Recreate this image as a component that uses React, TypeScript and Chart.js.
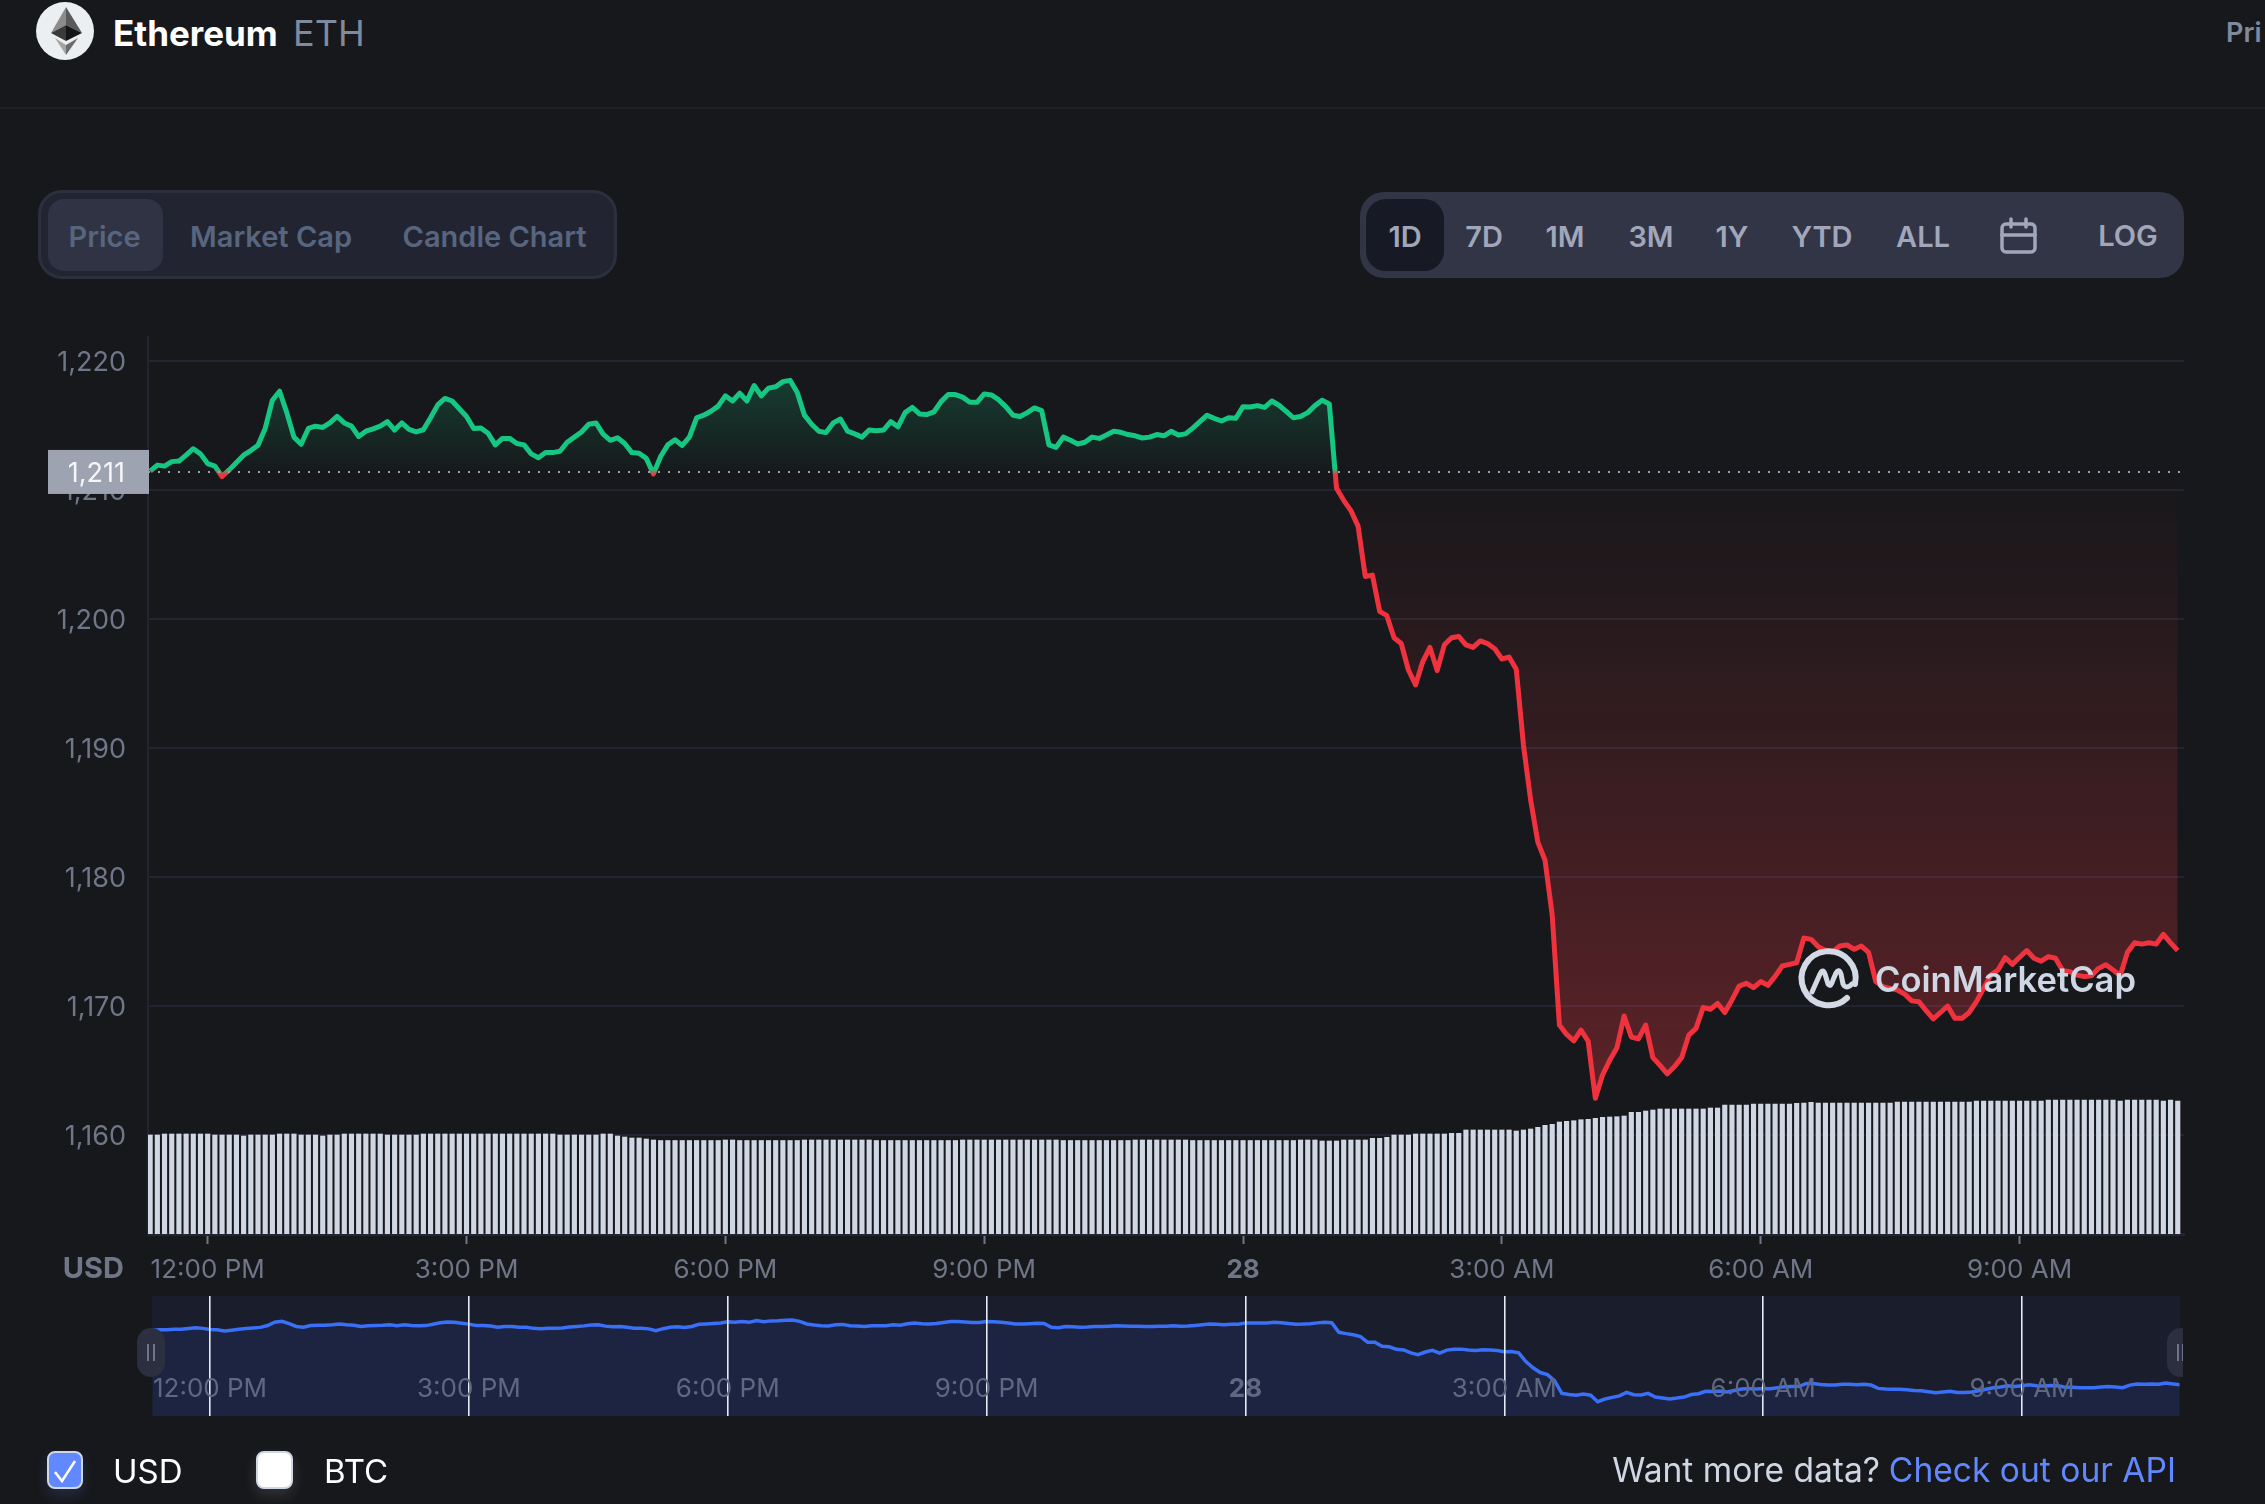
import React, { useEffect, useRef } from 'react'
import { Chart, registerables } from 'chart.js'

Chart.register(...registerables)

// 5 minute samples, ETH / USD
const priceValues = [
  1211.46, 1211.93, 1211.85, 1212.2, 1212.24, 1212.7, 1213.2, 1212.8, 1212.05, 1211.85,
  1211.05, 1211.56, 1212.13, 1212.7, 1213.06, 1213.47, 1214.77, 1216.96, 1217.66, 1216.0,
  1214.1, 1213.55, 1214.77, 1214.95, 1214.85, 1215.2, 1215.7, 1215.2, 1214.95, 1214.15,
  1214.56, 1214.74, 1214.95, 1215.3, 1214.65, 1215.2, 1214.7, 1214.5, 1214.67, 1215.6,
  1216.6, 1217.1, 1216.9, 1216.3, 1215.7, 1214.77, 1214.8, 1214.4, 1213.5, 1214.0,
  1214.0, 1213.6, 1213.5, 1212.8, 1212.5, 1212.9, 1212.9, 1213.0, 1213.7, 1214.1,
  1214.5, 1215.1, 1215.2, 1214.33, 1213.85, 1214.05, 1213.6, 1212.9, 1212.85, 1212.45,
  1211.25, 1212.6, 1213.5, 1213.9, 1213.45, 1214.1, 1215.6, 1215.8, 1216.1, 1216.5,
  1217.3, 1216.9, 1217.5, 1216.9, 1218.1, 1217.3, 1217.9, 1218.0, 1218.4, 1218.5,
  1217.55, 1215.8, 1215.1, 1214.55, 1214.45, 1215.2, 1215.5, 1214.56, 1214.35, 1214.1,
  1214.65, 1214.6, 1214.65, 1215.3, 1214.9, 1216.0, 1216.4, 1215.9, 1215.85, 1216.05,
  1216.85, 1217.4, 1217.4, 1217.2, 1216.8, 1216.8, 1217.45, 1217.37, 1217.0, 1216.46,
  1215.8, 1215.7, 1216.0, 1216.36, 1216.15, 1213.5, 1213.3, 1214.1, 1213.85, 1213.57,
  1213.7, 1214.1, 1214.0, 1214.27, 1214.55, 1214.47, 1214.3, 1214.2, 1214.03, 1214.1,
  1214.3, 1214.2, 1214.55, 1214.27, 1214.35, 1214.8, 1215.3, 1215.8, 1215.55, 1215.35,
  1215.6, 1215.56, 1216.46, 1216.44, 1216.54, 1216.4, 1216.9, 1216.57, 1216.1, 1215.6,
  1215.7, 1216.0, 1216.54, 1216.95, 1216.67, 1210.13, 1209.2, 1208.4, 1207.2, 1203.3,
  1203.4, 1200.6, 1200.26, 1198.55, 1198.1, 1196.05, 1194.9, 1196.7, 1197.8, 1196.0,
  1198.0, 1198.55, 1198.65, 1198.0, 1197.8, 1198.3, 1198.1, 1197.7, 1196.9, 1197.05,
  1196.1, 1190.23, 1185.97, 1182.7, 1181.3, 1177.05, 1168.53, 1167.8, 1167.3, 1168.14,
  1167.27, 1162.85, 1164.65, 1165.8, 1166.77, 1169.23, 1167.6, 1167.45, 1168.53, 1166.0,
  1165.4, 1164.75, 1165.3, 1166.0, 1167.75, 1168.27, 1169.9, 1169.75, 1170.2, 1169.5,
  1170.47, 1171.55, 1171.76, 1171.42, 1171.9, 1171.6, 1172.3, 1173.1, 1173.23, 1173.36,
  1175.27, 1175.17, 1174.6, 1174.3, 1174.2, 1174.65, 1174.73, 1174.4, 1174.65, 1174.16,
  1171.9, 1171.5, 1171.37, 1171.24, 1170.93, 1170.4, 1170.34, 1169.64, 1169.0, 1169.5,
  1170.0, 1169.05, 1169.05, 1169.5, 1170.34, 1171.37, 1172.4, 1172.8, 1173.75, 1173.23,
  1173.78, 1174.3, 1173.7, 1173.47, 1173.83, 1173.7, 1172.74, 1172.66, 1172.4, 1172.28,
  1172.35, 1172.92, 1173.2, 1172.8, 1172.35, 1174.16, 1174.9, 1174.8, 1174.9, 1174.8,
  1175.56, 1174.9, 1174.3,
]

// 24h volume, billions
const volumeValues = [
  9.9, 9.9, 10, 10, 10, 10, 10, 10, 10, 9.9,
  9.9, 9.9, 9.9, 9.8, 9.9, 9.9, 9.9, 9.9, 10, 10,
  10, 9.9, 9.9, 9.9, 9.8, 9.9, 9.9, 10, 10, 10,
  10, 10, 10, 9.9, 9.9, 9.9, 9.9, 9.9, 10, 10,
  10, 10, 10, 10, 10, 10, 10, 10, 10, 10,
  10, 10, 10, 10, 10, 10, 10, 9.9, 9.9, 9.9,
  9.9, 9.9, 9.9, 10, 10, 9.8, 9.7, 9.6, 9.6, 9.5,
  9.4, 9.35, 9.35, 9.35, 9.35, 9.35, 9.35, 9.35, 9.35, 9.35,
  9.4, 9.4, 9.35, 9.35, 9.35, 9.35, 9.35, 9.35, 9.35, 9.35,
  9.35, 9.4, 9.4, 9.4, 9.4, 9.4, 9.4, 9.4, 9.4, 9.4,
  9.4, 9.35, 9.35, 9.35, 9.35, 9.35, 9.35, 9.35, 9.35, 9.35,
  9.35, 9.35, 9.35, 9.4, 9.4, 9.4, 9.4, 9.4, 9.4, 9.4,
  9.4, 9.4, 9.4, 9.4, 9.4, 9.4, 9.4, 9.35, 9.35, 9.35,
  9.35, 9.35, 9.35, 9.35, 9.35, 9.35, 9.35, 9.4, 9.4, 9.4,
  9.4, 9.4, 9.4, 9.4, 9.4, 9.35, 9.35, 9.35, 9.35, 9.35,
  9.35, 9.35, 9.35, 9.35, 9.35, 9.35, 9.35, 9.35, 9.35, 9.35,
  9.4, 9.4, 9.4, 9.3, 9.3, 9.3, 9.4, 9.4, 9.4, 9.4,
  9.57, 9.57, 9.67, 9.9, 9.9, 9.9, 10, 10, 10, 10,
  10, 10.07, 10.07, 10.4, 10.4, 10.4, 10.4, 10.4, 10.4, 10.4,
  10.3, 10.4, 10.5, 10.67, 10.87, 10.97, 11.2, 11.27, 11.33, 11.43,
  11.47, 11.57, 11.67, 11.7, 11.73, 11.8, 12.17, 12.17, 12.3, 12.4,
  12.5, 12.5, 12.5, 12.5, 12.5, 12.5, 12.5, 12.6, 12.6, 12.9,
  12.9, 12.9, 12.9, 13, 13, 13, 13, 13, 13, 13.07,
  13.1, 13.17, 13.1, 13.1, 13.1, 13.1, 13.1, 13.1, 13.1, 13.1,
  13.1, 13.1, 13.1, 13.2, 13.2, 13.2, 13.2, 13.2, 13.2, 13.2,
  13.2, 13.2, 13.2, 13.2, 13.3, 13.3, 13.3, 13.3, 13.3, 13.3,
  13.3, 13.3, 13.3, 13.3, 13.4, 13.4, 13.4, 13.4, 13.4, 13.4,
  13.4, 13.4, 13.4, 13.4, 13.3, 13.4, 13.4, 13.4, 13.4, 13.4,
  13.3, 13.4, 13.3,
]

const baselinePrice = 1211.4
const baselineLabel = '1,211'
const tickIndexes = [8, 44, 80, 116, 152, 188, 224, 260]
const tickLabels = ['12:00 PM', '3:00 PM', '6:00 PM', '9:00 PM', '28', '3:00 AM', '6:00 AM', '9:00 AM']
const tabLabels = ['Price', 'Market Cap', 'Candle Chart']
const rangeLabels = ['1D', '7D', '1M', '3M', '1Y', 'YTD', 'ALL']

const FONT = 'Inter, "Noto Sans", sans-serif'
const BG = '#17181b'
const GRID = '#222531'
const GREEN = '#16c784'
const RED = '#f0323f'
const LABEL = '#6f7688'

const toPoints = (values: number[]) => values.map((y, x) => ({ x, y }))

const fixTicks = (scale: any) => {
  scale.ticks = tickIndexes.map((value) => ({ value }))
}
const tickText = (value: any) => tickLabels[tickIndexes.indexOf(Number(value))]
const tickFont = (size: number) => (ctx: any) => ({
  family: FONT,
  size,
  weight: ctx.tick && ctx.tick.value === 152 ? 'bold' : 'normal',
})

const baselineBox = {
  id: 'baselineBox',
  afterDraw(chart: any) {
    const { ctx, scales, chartArea } = chart
    const y = scales.y.getPixelForValue(baselinePrice)
    ctx.save()
    ctx.fillStyle = '#9ea3b1'
    ctx.fillRect(chartArea.left - 100, y - 22, 101, 44)
    ctx.fillStyle = '#f5f6f8'
    ctx.font = `27px ${FONT}`
    ctx.textAlign = 'right'
    ctx.textBaseline = 'middle'
    ctx.fillText(baselineLabel, chartArea.left - 23, y + 2)
    ctx.restore()
  },
}

const PriceChart: React.FC = () => {
  const canvasRef = useRef<HTMLCanvasElement | null>(null)

  useEffect(() => {
    if (!canvasRef.current) return
    const chart = new Chart(canvasRef.current, {
      type: 'bar',
      data: {
        datasets: [
          {
            type: 'line',
            data: [
              { x: -0.3, y: baselinePrice },
              { x: 282.87, y: baselinePrice },
            ],
            yAxisID: 'y',
            borderColor: '#9ea3b1',
            borderWidth: 2,
            borderDash: [2, 8],
            pointRadius: 0,
            order: 0,
          },
          {
            type: 'line',
            data: toPoints(priceValues),
            yAxisID: 'y',
            borderColor: GREEN,
            borderWidth: 5,
            borderJoinStyle: 'round',
            pointRadius: 0,
            tension: 0,
            fill: { target: { value: baselinePrice } },
            order: 1,
          },
          {
            type: 'bar',
            data: toPoints(volumeValues),
            yAxisID: 'vol',
            backgroundColor: '#cfd6e4',
            barThickness: 4.5,
            order: 2,
          },
        ] as any,
      },
      options: {
        animation: false,
        responsive: false,
        layout: { padding: { top: 337, right: 81, left: 0, bottom: 0 } },
        plugins: { legend: { display: false }, tooltip: { enabled: false } },
        scales: {
          x: {
            type: 'linear',
            offset: false,
            min: -0.3,
            max: 282.87,
            afterBuildTicks: fixTicks,
            afterFit: (scale: any) => {
              scale.height = 56
            },
            grid: { offset: false, drawOnChartArea: false, tickLength: 10, tickColor: '#6f7688', tickWidth: 2 },
            border: { color: GRID, width: 3 },
            ticks: {
              callback: tickText,
              autoSkip: false,
              maxRotation: 0,
              color: LABEL,
              padding: 11,
              font: tickFont(26),
            },
          },
          y: {
            min: 1152.33,
            max: 1221.86,
            afterFit: (scale: any) => {
              scale.width = 148
            },
            grid: { color: GRID, lineWidth: 2, drawTicks: false },
            border: { color: GRID, width: 2 },
            ticks: {
              stepSize: 10,
              includeBounds: false,
              color: LABEL,
              padding: 22,
              labelOffset: 2,
              font: { family: FONT, size: 27 },
              callback: (v: any) => Number(v).toLocaleString('en-US'),
            },
          },
          vol: { display: false, min: 0, max: 89.7 },
        },
      } as any,
      plugins: [baselineBox],
    })

    // gradients need the laid out scale
    const ctx = chart.ctx
    const y = chart.scales.y
    const base = y.getPixelForValue(baselinePrice)
    const high = y.getPixelForValue(1218.5)
    const low = y.getPixelForValue(1162.85)
    const split = (base - high) / (low - high)

    const stroke = ctx.createLinearGradient(0, high, 0, low)
    stroke.addColorStop(0, GREEN)
    stroke.addColorStop(split - 0.004, GREEN)
    stroke.addColorStop(split + 0.004, RED)
    stroke.addColorStop(1, RED)

    const above = ctx.createLinearGradient(0, high, 0, base)
    above.addColorStop(0, 'rgba(22,199,132,0.21)')
    above.addColorStop(1, 'rgba(22,199,132,0.01)')
    const below = ctx.createLinearGradient(0, base, 0, low)
    below.addColorStop(0, 'rgba(234,57,67,0)')
    below.addColorStop(1, 'rgba(234,57,67,0.33)')

    const line = chart.data.datasets[1] as any
    line.borderColor = stroke
    line.fill = { target: { value: baselinePrice }, above, below }
    chart.update('none')

    return () => chart.destroy()
  }, [])

  return (
    <canvas
      ref={canvasRef}
      width={2265}
      height={1290}
      style={{ position: 'absolute', left: 0, top: 0 }}
    />
  )
}

const NavigatorChart: React.FC = () => {
  const canvasRef = useRef<HTMLCanvasElement | null>(null)

  useEffect(() => {
    if (!canvasRef.current) return
    const chart = new Chart(canvasRef.current, {
      type: 'line',
      data: {
        datasets: [
          {
            data: toPoints(priceValues),
            borderColor: '#3a6ff8',
            borderWidth: 3.5,
            pointRadius: 0,
            tension: 0,
            fill: 'start',
            backgroundColor: '#1c2442',
          },
        ],
      },
      options: {
        animation: false,
        responsive: false,
        layout: { padding: { left: 151.5, right: 85.5, top: 0, bottom: 0 } },
        plugins: { legend: { display: false }, tooltip: { enabled: false } },
        scales: {
          x: {
            type: 'linear',
            min: -0.14,
            max: 281.9,
            afterBuildTicks: fixTicks,
            afterFit: (scale: any) => {
              scale.height = 0
            },
            grid: { color: '#e6eaf2', lineWidth: 1.6, drawTicks: false, z: 1 },
            border: { display: false },
            ticks: {
              callback: tickText,
              autoSkip: false,
              maxRotation: 0,
              color: '#5f6880',
              // mirror skips the label clip of a zero height axis
              mirror: true,
              padding: 11,
              z: 2,
              font: tickFont(26),
            },
          },
          y: { display: false, min: 1153.1, max: 1234.85 },
        },
      } as any,
    })
    return () => chart.destroy()
  }, [])

  return (
    <canvas
      ref={canvasRef}
      width={2265}
      height={120}
      style={{ position: 'absolute', left: 0, top: 1296 }}
    />
  )
}

type TextProps = {
  x: number
  y: number
  size: number
  color: string
  weight?: number
  align?: 'left' | 'center' | 'right'
  children: React.ReactNode
}

// y is the vertical centre, x the edge or centre given by align
const Text: React.FC<TextProps> = ({ x, y, size, color, weight = 400, align = 'left', children }) => {
  const shift = align === 'center' ? '-50%' : align === 'right' ? '-100%' : '0'
  return (
    <div
      style={{
        position: 'absolute',
        left: x,
        top: y,
        transform: `translate(${shift}, -50%)`,
        fontFamily: FONT,
        fontSize: size,
        fontWeight: weight,
        color,
        lineHeight: 1,
        whiteSpace: 'nowrap',
      }}
    >
      {children}
    </div>
  )
}

const Box: React.FC<{
  x: number
  y: number
  w: number
  h: number
  bg: string
  r?: number
  style?: React.CSSProperties
  children?: React.ReactNode
}> = ({ x, y, w, h, bg, r = 0, style, children }) => (
  <div
    style={{
      position: 'absolute',
      left: x,
      top: y,
      width: w,
      height: h,
      background: bg,
      borderRadius: r,
      boxSizing: 'border-box',
      ...style,
    }}
  >
    {children}
  </div>
)

const Overlay: React.FC = () => (
  <svg
    width={2265}
    height={1504}
    style={{ position: 'absolute', left: 0, top: 0, pointerEvents: 'none' }}
  >
    {/* eth logo */}
    <circle cx={65} cy={31} r={29} fill="#eceff1" />
    <polygon points="66,7 51,33 66,25" fill="#8c8c8c" />
    <polygon points="66,7 82,33 66,25" fill="#5a5a5a" />
    <polygon points="51,33 66,25 66,41" fill="#3a3a3a" />
    <polygon points="82,33 66,25 66,41" fill="#161616" />
    <polygon points="55,38 66,45 66,55" fill="#a4a4a4" />
    <polygon points="78,38 66,45 66,55" fill="#6c6c6c" />

    {/* calendar */}
    <g fill="none" stroke="#a1a7bb" strokeWidth={3.5} strokeLinecap="round">
      <rect x={2002} y={224} width={33} height={28} rx={4} />
      <path d="M2002 235H2035M2011 219V227M2026 219V227" />
    </g>

    {/* watermark */}
    <g fill="none" stroke="#d3d9e5" strokeWidth={6} strokeLinecap="round" strokeLinejoin="round">
      <path d="M1847 998A27 27 0 1 1 1855 984" />
      <path d="M1812 992L1820 974Q1823 968 1825 974L1828 984Q1831 988 1833 980L1836 973Q1839 968 1841 974L1843 984Q1846 990 1852 984" strokeWidth={5} />
    </g>
    <text
      x={1875}
      y={992}
      textLength={261}
      lengthAdjust="spacingAndGlyphs"
      fontFamily={FONT}
      fontSize={35}
      fontWeight={600}
      fill="#cfd6e4"
    >
      CoinMarketCap
    </text>

    {/* checkmark */}
    <path d="M55 1472L62 1481L75 1461" fill="none" stroke="#fff" strokeWidth={2.5} />
  </svg>
)

const App: React.FC = () => {
  const tabCentres = [104.5, 271, 494.5]
  const rangeCentres = [1405, 1484, 1565, 1651, 1732, 1822, 1923]

  return (
    <div style={{ position: 'relative', width: 2265, height: 1504, overflow: 'hidden', background: BG }}>
      <style>{'body{margin:0;background:#17181b;overflow:hidden}'}</style>

      {/* header */}
      <Box x={0} y={107} w={2265} h={2} bg="#1d1e23" />
      <Text x={113} y={33} size={35} weight={700} color="#ffffff">
        Ethereum
      </Text>
      <Text x={293} y={33} size={36} color="#808a9d">
        ETH
      </Text>
      <Text x={2226} y={32} size={27} weight={600} color="#808a9d">
        Pri
      </Text>

      {/* tabs */}
      <Box x={38} y={190} w={579} h={89} bg="#222531" r={24} style={{ border: '3px solid #2c2f3d' }} />
      <Box x={48} y={199} w={115} h={72} bg="#2f3344" r={16} />
      {tabLabels.map((label, i) => (
        <Text key={label} x={tabCentres[i]} y={236} size={29} weight={600} color="#58657f" align="center">
          {label}
        </Text>
      ))}

      {/* range buttons */}
      <Box x={1360} y={192} w={824} h={86} bg="#323546" r={24} />
      <Box x={1366} y={199} w={78} h={72} bg="#171924" r={20} />
      {rangeLabels.map((label, i) => (
        <Text key={label} x={rangeCentres[i]} y={236} size={29} weight={600} color="#a1a7bb" align="center">
          {label}
        </Text>
      ))}
      <Text x={2128} y={235} size={29} weight={600} color="#a1a7bb" align="center">
        LOG
      </Text>

      <PriceChart />
      <Text x={124} y={1267} size={29} weight={700} color={LABEL} align="right">
        USD
      </Text>

      {/* navigator */}
      <Box x={151.5} y={1296} w={2028} h={120} bg="#191d2c" />
      <NavigatorChart />
      <div style={{ position: 'absolute', left: 0, top: 0, width: 2183, height: 1504, overflow: 'hidden' }}>
        <Box x={137} y={1328} w={28} h={49} bg="#2b2f3f" r={14} />
        <Box x={147} y={1344} w={2} h={17} bg="#6d7488" />
        <Box x={153} y={1344} w={2} h={17} bg="#6d7488" />
        <Box x={2167} y={1328} w={28} h={49} bg="#2b2f3f" r={14} />
        <Box x={2177} y={1344} w={2} h={17} bg="#6d7488" />
        <Box x={2182} y={1344} w={2} h={17} bg="#6d7488" />
      </div>

      {/* footer */}
      <Box
        x={47}
        y={1451}
        w={36}
        h={38}
        bg="#6188ff"
        r={8}
        style={{ border: '2px solid #cfd6e4', boxShadow: '0 6px 14px rgba(97,136,255,0.18)' }}
      />
      <Text x={113} y={1471} size={33} color="#ffffff">
        USD
      </Text>
      <Box
        x={256}
        y={1451}
        w={37}
        h={38}
        bg="#ffffff"
        r={8}
        style={{ border: '2px solid #cfd6e4', boxShadow: '0 6px 14px rgba(207,214,228,0.15)' }}
      />
      <Text x={324} y={1471} size={33} color="#ffffff">
        BTC
      </Text>
      <Text x={1880} y={1470} size={33.6} color="#cfd6e4" align="right">
        Want more data?
      </Text>
      <Text x={2176} y={1470} size={33.6} color="#6188ff" align="right">
        Check out our API
      </Text>

      <Overlay />
    </div>
  )
}

export default App
